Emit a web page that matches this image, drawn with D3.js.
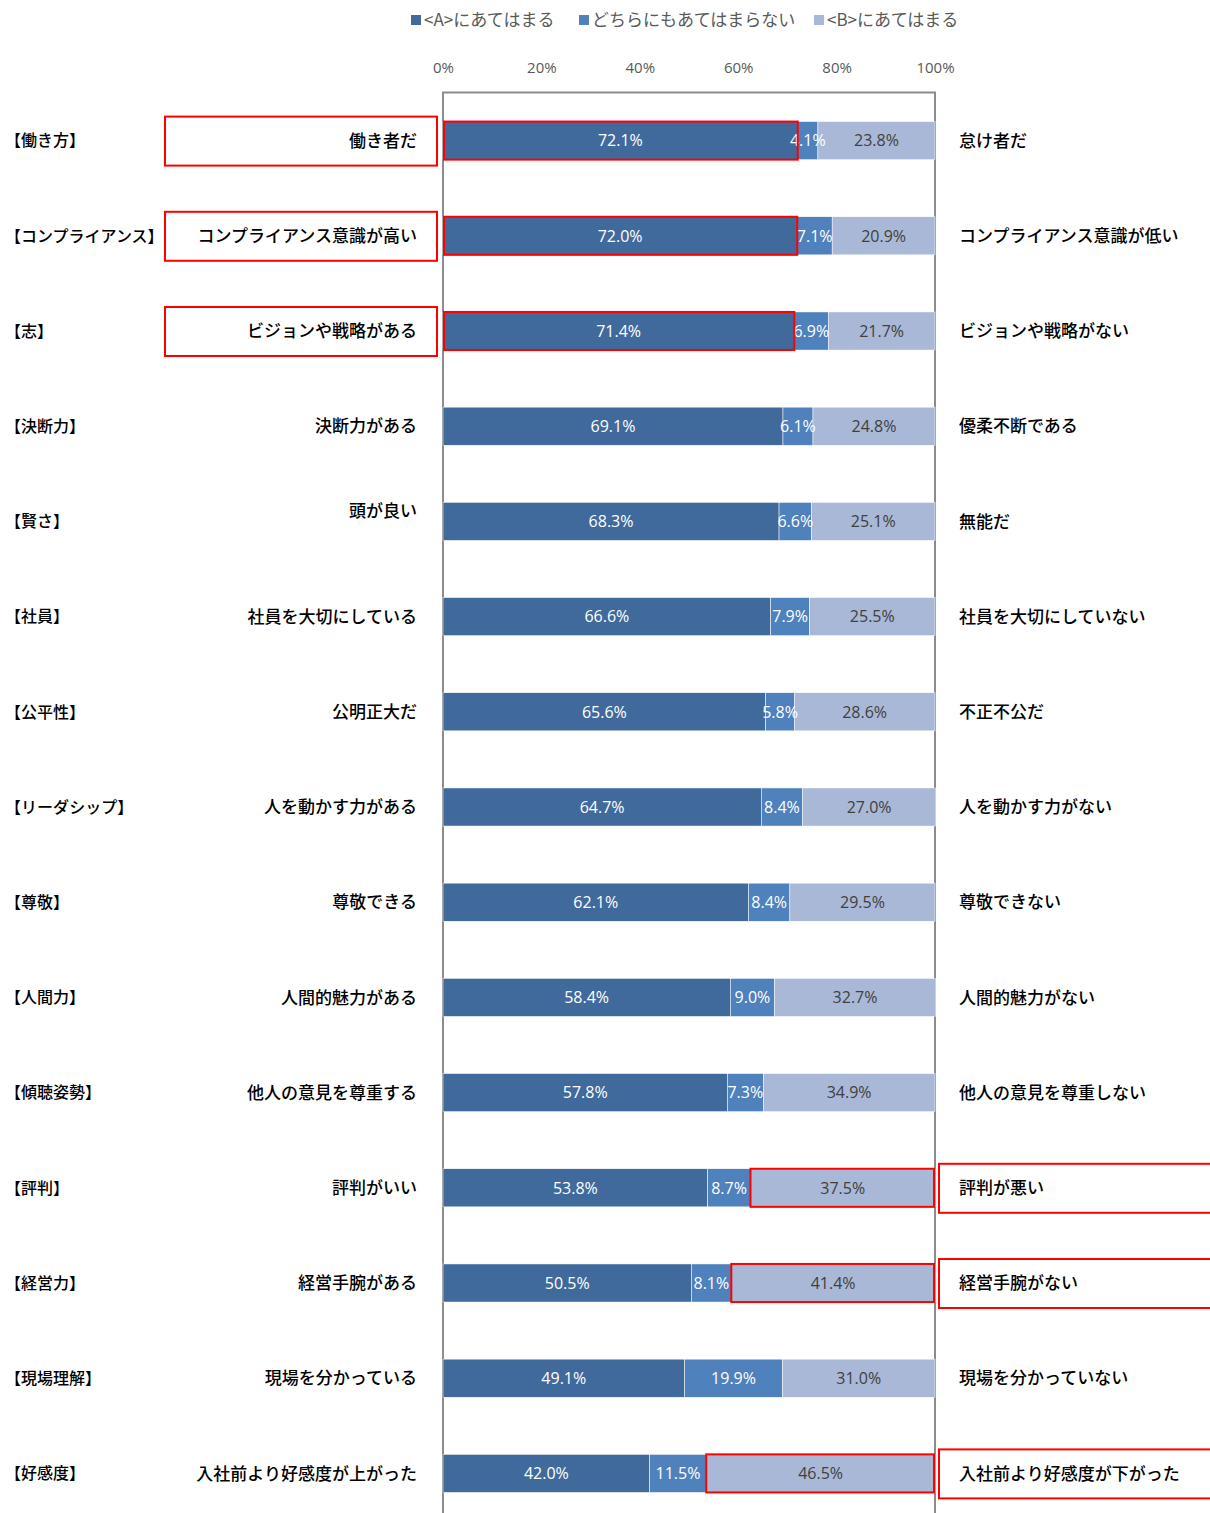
<!DOCTYPE html>
<html><head><meta charset="utf-8">
<script src="https://cdn.jsdelivr.net/npm/d3@7"></script>
<style>body{margin:0;background:#fff;}svg{display:block;font-family:"Noto Sans CJK JP","Noto Sans",sans-serif;}</style>
</head><body><svg id="c" width="1210" height="1513"></svg>
<script>
const categories = ["【働き方】","【コンプライアンス】","【志】","【決断力】","【賢さ】","【社員】","【公平性】","【リーダシップ】","【尊敬】","【人間力】","【傾聴姿勢】","【評判】","【経営力】","【現場理解】","【好感度】"];
const leftLabels = ["働き者だ","コンプライアンス意識が高い","ビジョンや戦略がある","決断力がある","頭が良い","社員を大切にしている","公明正大だ","人を動かす力がある","尊敬できる","人間的魅力がある","他人の意見を尊重する","評判がいい","経営手腕がある","現場を分かっている","入社前より好感度が上がった"];
const rightLabels = ["怠け者だ","コンプライアンス意識が低い","ビジョンや戦略がない","優柔不断である","無能だ","社員を大切にしていない","不正不公だ","人を動かす力がない","尊敬できない","人間的魅力がない","他人の意見を尊重しない","評判が悪い","経営手腕がない","現場を分かっていない","入社前より好感度が下がった"];
const seriesNames = ["<A>にあてはまる","どちらにもあてはまらない","<B>にあてはまる"];
const valuesA = [72.1,72.0,71.4,69.1,68.3,66.6,65.6,64.7,62.1,58.4,57.8,53.8,50.5,49.1,42.0];
const valuesMid = [4.1,7.1,6.9,6.1,6.6,7.9,5.8,8.4,8.4,9.0,7.3,8.7,8.1,19.9,11.5];
const valuesB = [23.8,20.9,21.7,24.8,25.1,25.5,28.6,27.0,29.5,32.7,34.9,37.5,41.4,31.0,46.5];
const tickValues = [0,20,40,60,80,100];
const highlightA = [0,1,2];
const highlightB = [11,12,14];

const colors = ["#416A9C","#4F81BD","#A9B8D6"];
const labelColors = ["#ffffff","#ffffff","#404040"];
const numFont = "'Open Sans','Noto Sans',sans-serif";

const svg = d3.select("#c");
const x = d3.scaleLinear().domain([0,100]).range([443,935]);
const y = d3.scaleBand().domain(d3.range(categories.length)).range([93, 93+15*95.2]).paddingInner(0.6).paddingOuter(0.3);

// frame
svg.append("path").attr("d",`M443,1513V92.5H935V1513`).attr("fill","none").attr("stroke","#8c8c8c").attr("stroke-width",2);

// ticks
const axis = d3.axisTop(x).tickValues(tickValues).tickFormat(d=>d+"%").tickSize(0);
const ga = svg.append("g").attr("transform","translate(0,76)").call(axis);
ga.select(".domain").remove();
ga.selectAll("text").attr("font-size",15).attr("fill","#595959").attr("font-family",numFont);

// stacked data
const rows = categories.map((c,i)=>({i, vals:[valuesA[i],valuesMid[i],valuesB[i]]}));
const stack = rows.map(r=>{let acc=0; return r.vals.map((v,k)=>{const s={i:r.i,k,v,x0:acc,x1:acc+v}; acc+=v; return s;});});
const segs = stack.flat();

svg.append("g").selectAll("rect").data(segs).join("rect")
  .attr("x",d=>x(d.x0)).attr("width",d=>x(d.x1)-x(d.x0))
  .attr("y",d=>y(d.i)).attr("height",y.bandwidth())
  .attr("fill",d=>colors[d.k]).attr("stroke","#fff").attr("stroke-width",0.5);

svg.append("g").selectAll("text").data(segs).join("text")
  .attr("x",d=>(x(d.x0)+x(d.x1))/2).attr("y",d=>y(d.i)+y.bandwidth()/2)
  .attr("dy","0.36em").attr("text-anchor","middle")
  .attr("font-size",16).attr("font-family",numFont)
  .attr("fill",d=>labelColors[d.k]).text(d=>d.v.toFixed(1)+"%");

// highlight outlines
svg.append("g").selectAll("rect").data(highlightA).join("rect")
  .attr("x",x(0)+1).attr("width",i=>x(valuesA[i])-x(0)-1)
  .attr("y",i=>y(i)).attr("height",y.bandwidth())
  .attr("fill","none").attr("stroke","#ff0000").attr("stroke-width",2);
svg.append("g").selectAll("rect").data(highlightB).join("rect")
  .attr("x",i=>x(valuesA[i]+valuesMid[i])).attr("width",i=>x(100)-x(valuesA[i]+valuesMid[i])-1)
  .attr("y",i=>y(i)).attr("height",y.bandwidth())
  .attr("fill","none").attr("stroke","#ff0000").attr("stroke-width",2);

// label boxes
const cy = i=>y(i)+y.bandwidth()/2;
svg.append("g").selectAll("rect").data(highlightA).join("rect")
  .attr("x",165).attr("width",272).attr("y",i=>cy(i)-24).attr("height",49)
  .attr("fill","none").attr("stroke","#ff0000").attr("stroke-width",2);
svg.append("g").selectAll("rect").data(highlightB).join("rect")
  .attr("x",939).attr("width",280).attr("y",i=>cy(i)-24).attr("height",49)
  .attr("fill","none").attr("stroke","#ff0000").attr("stroke-width",2);

// text labels
svg.append("g").selectAll("text").data(categories).join("text")
  .attr("x",5).attr("y",(d,i)=>cy(i)).attr("dy","0.36em").attr("font-size",16).attr("font-weight",500).attr("fill","#000").text(d=>d);
svg.append("g").selectAll("text").data(leftLabels).join("text")
  .attr("x",417).attr("y",(d,i)=>cy(i)-(i===4?11:0)).attr("dy","0.36em").attr("text-anchor","end").attr("font-size",17).attr("font-weight",500).attr("fill","#000").text(d=>d);
svg.append("g").selectAll("text").data(rightLabels).join("text")
  .attr("x",959).attr("y",(d,i)=>cy(i)).attr("dy","0.36em").attr("font-size",17).attr("font-weight",500).attr("fill","#000").text(d=>d);

// legend
const legX = [411,579,814];
const lg = svg.append("g").selectAll("g").data(seriesNames).join("g").attr("transform",(d,i)=>`translate(${legX[i]},20)`);
lg.append("rect").attr("x",0).attr("y",-5).attr("width",10).attr("height",10).attr("fill",(d,i)=>colors[i]);
lg.append("text").attr("x",13).attr("y",0).attr("dy","0.35em").attr("font-size",17).attr("fill","#595959").text(d=>d);
</script></body></html>
